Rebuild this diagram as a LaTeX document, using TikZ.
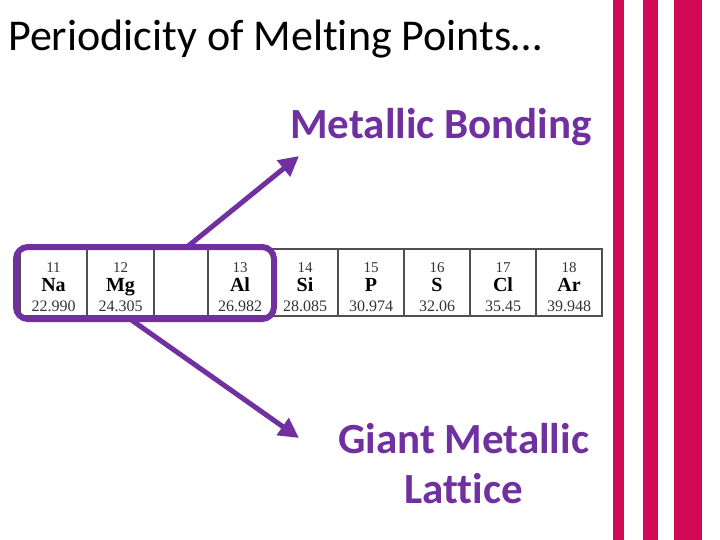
\documentclass[tikz,border=0pt]{standalone}
\usepackage{fontspec}
\setmainfont{Carlito}[Ligatures=CommonOff]
\newfontfamily\tabfont{Liberation Serif}
\usetikzlibrary{arrows.meta}
\definecolor{stripe}{HTML}{D20A55}
\definecolor{purp}{HTML}{7030A0}
\definecolor{cellline}{HTML}{505050}
\definecolor{masscol}{HTML}{333333}
\tikzset{
  cellbox/.style={draw=cellline, line width=1.8pt},
  elnum/.style={font=\tabfont\fontsize{15}{15}\selectfont, text=masscol, anchor=base, inner sep=0},
  elsym/.style={font=\tabfont\bfseries\fontsize{20}{20}\selectfont, anchor=base, inner sep=0},
  elmass/.style={font=\tabfont\fontsize{16}{16}\selectfont, text=masscol, anchor=base, inner sep=0},
  bigtext/.style={font=\bfseries\fontsize{43}{50}\selectfont, text=purp, inner sep=0},
  connector/.style={draw=purp, line width=5pt, -{Triangle[length=20pt,width=20pt]}},
}
\begin{document}
\begin{tikzpicture}[x=1pt,y=-1pt]
\useasboundingbox (0,0) rectangle (720,540);
% stripes
\fill[stripe] (613,0) rectangle (624,540);
\fill[stripe] (643,0) rectangle (658,540);
\fill[stripe] (674,0) rectangle (702,540);
% title
\node[anchor=base west, inner sep=0, font=\fontsize{44}{50}\selectfont] (title) at (8,51) {Periodicity of Melting Points…};
% table cells
\foreach \l/\r/\nm in {20/87/na,87/154/mg,154/208/gap,208/272/al,272/338/si,338/404/p,404/470/s,470/536/cl,536/602/ar}{
  \path[cellbox] (\l,249) rectangle (\r,316);
}
\foreach \cx/\n/\sy/\m in {53.5/11/Na/22.990, 120.5/12/Mg/24.305, 240/13/Al/26.982, 305/14/Si/28.085, 371/15/P/30.974, 437/16/S/32.06, 503/17/Cl/35.45, 569/18/Ar/39.948}{
  \node[elnum] (n\n) at (\cx,272) {\n};
  \node[elsym] (s\n) at (\cx,291) {\sy};
  \node[elmass] (m\n) at (\cx,311) {\m};
}
% rounded group box
\node[draw=purp, line width=6pt, rounded corners=12pt, minimum width=258pt, minimum height=72pt, inner sep=0] (grp) at (145,283) {};
% labels
\node[bigtext, anchor=base east] (mb) at (592,139) {Metallic Bonding};
\node[bigtext, align=center, anchor=base] (gml) at (463.5,503) {Giant Metallic\\Lattice};
% connectors
\coordinate (up) at (187,247);
\coordinate (dn) at (130,319);
\coordinate (mbtip) at (299,156);
\coordinate (gmltip) at (299,438);
\draw[connector] (up) -- (mbtip);
\draw[connector] (dn) -- (gmltip);
\end{tikzpicture}
\end{document}
